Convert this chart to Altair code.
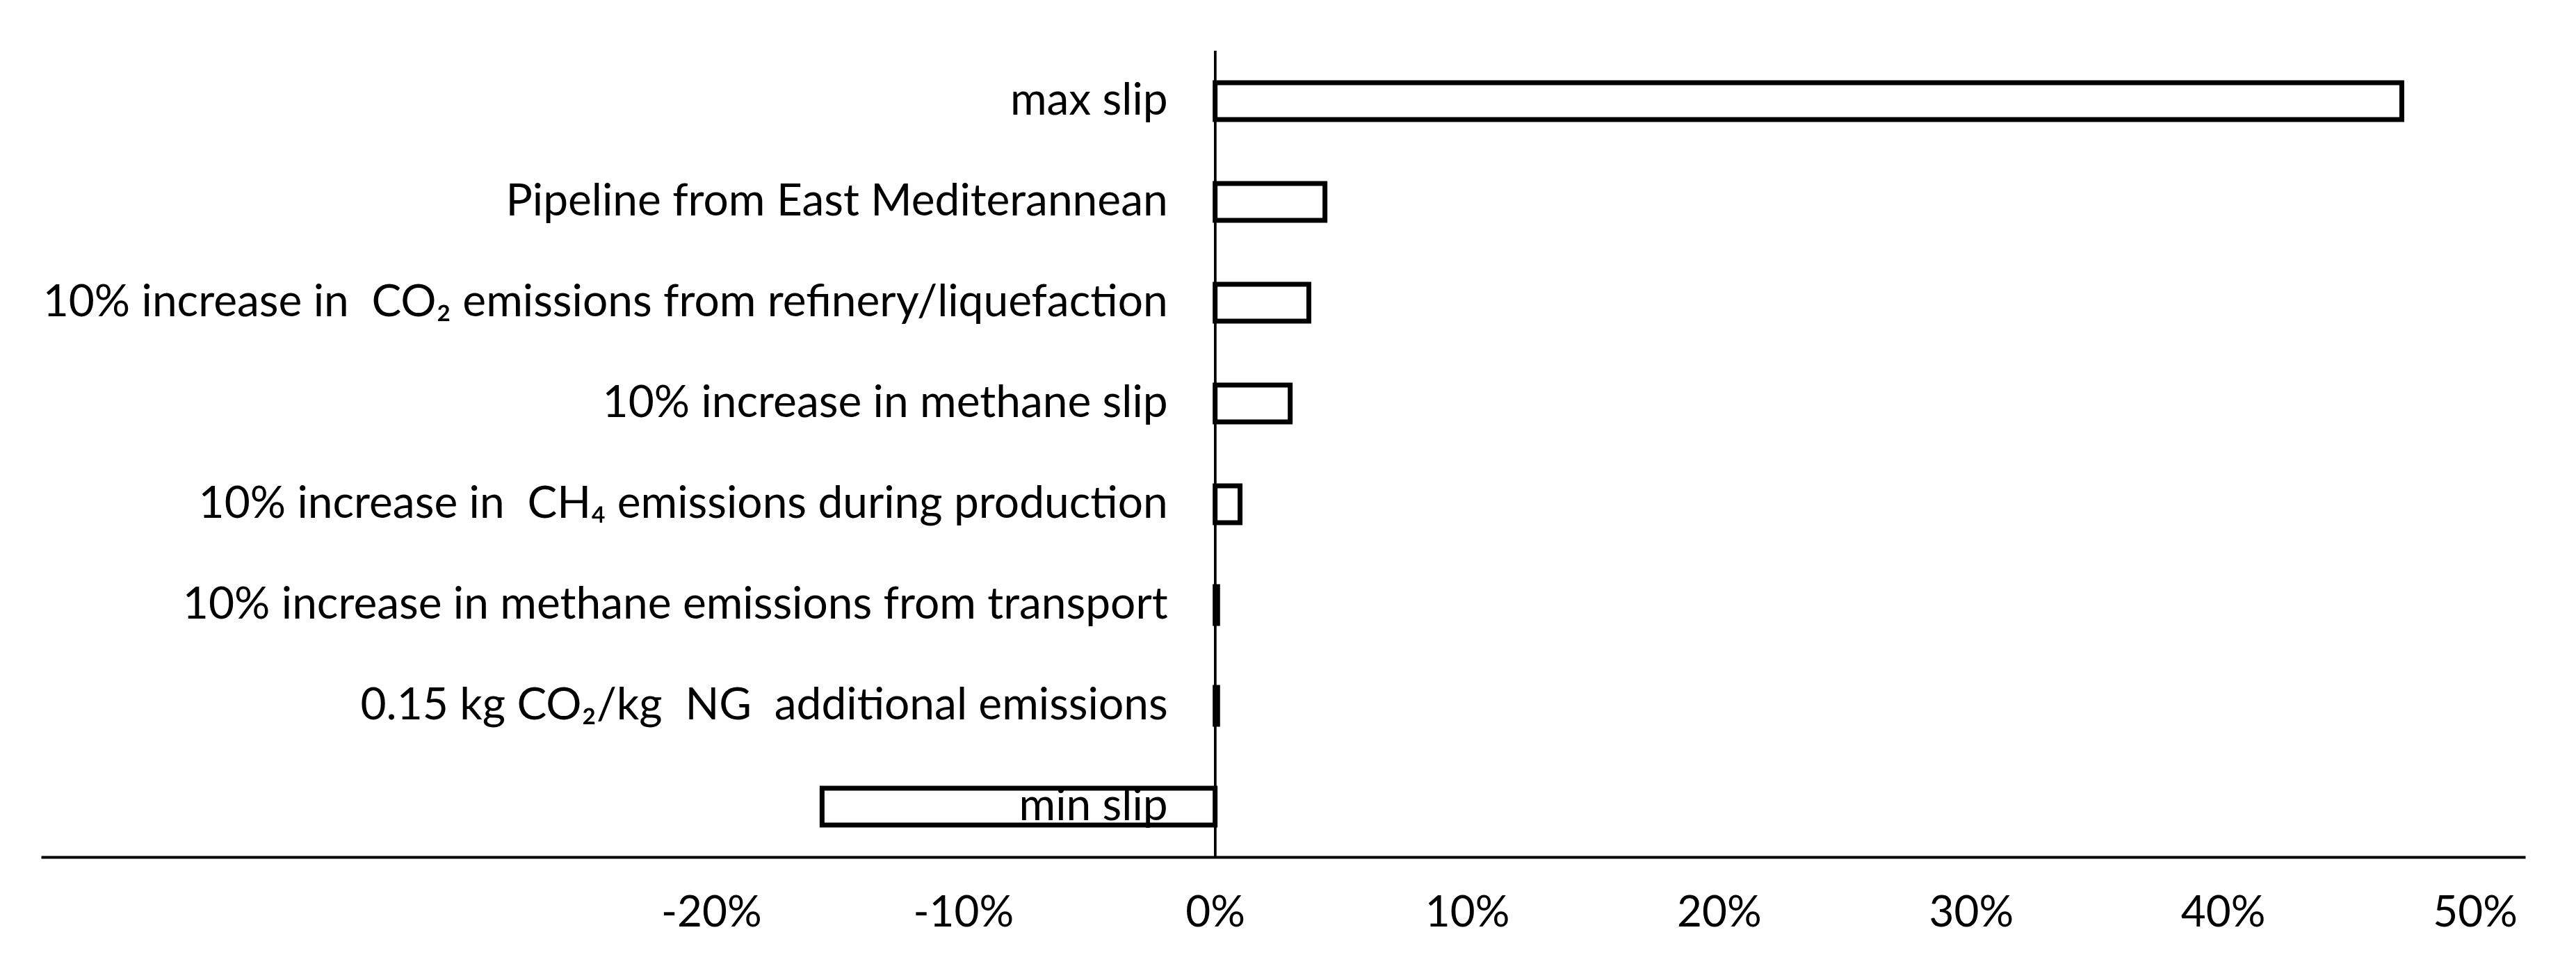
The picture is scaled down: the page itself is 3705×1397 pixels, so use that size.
import altair as alt
import pandas as pd

categories = [
    "max slip",
    "Pipeline from East Mediterannean",
    "10% increase in\u00a0\u00a0CO\u2082 emissions from refinery/liquefaction",
    "10% increase in methane slip",
    "10% increase in\u00a0\u00a0CH\u2084 emissions during production\u00a0",
    "10% increase in methane emissions from transport",
    "0.15 kg CO\u2082/kg\u00a0\u00a0NG\u00a0\u00a0additional emissions\u00a0",
    "min slip",
]
values = [0.471, 0.0436, 0.0372, 0.0298, 0.0099, 0.001, 0.001, -0.156]
tick_values = [-0.2, -0.1, 0.0, 0.1, 0.2, 0.3, 0.4, 0.5]

df = pd.DataFrame({"category": categories, "value": values})

FONT = "Lato"
W, H = 3573, 1160

xscale = alt.Scale(domain=[-0.466, 0.52], nice=False, zero=False)
yscale = alt.Scale(paddingInner=0.634, paddingOuter=0.317)

base = alt.Chart(df)

bars = base.mark_bar(fill="white", stroke="black", strokeWidth=7).encode(
    x=alt.X("value:Q", scale=xscale,
            axis=alt.Axis(values=tick_values, format=".0%", title=None, grid=False,
                          labelExpr="replace(datum.label, '\u2212', '-')",
                          ticks=False, tickSize=0, labelPadding=50, labelBaseline="top",
                          labelFont=FONT, labelFontSize=62, labelColor="black",
                          domainColor="black", domainWidth=4)),
    y=alt.Y("category:N", sort=categories, scale=yscale, axis=None),
)

zero = base.mark_rule(color="black", strokeWidth=3).encode(x=alt.datum(0))

labels = base.mark_text(align="right", baseline="middle", dx=-68, font=FONT,
                        fontSize=64, color="black").encode(
    x=alt.datum(0),
    y=alt.Y("category:N", sort=categories, scale=yscale, axis=None),
    text="category:N",
)

chart = alt.layer(bars, zero, labels).properties(
    width=W, height=H,
    autosize=alt.AutoSizeParams(type="none"),
    padding={"left": 51, "top": 65, "right": 60, "bottom": 150},
    background="white",
).configure_view(stroke=None)

chart.save("out.html", embed_options={"renderer": "svg", "actions": False})
